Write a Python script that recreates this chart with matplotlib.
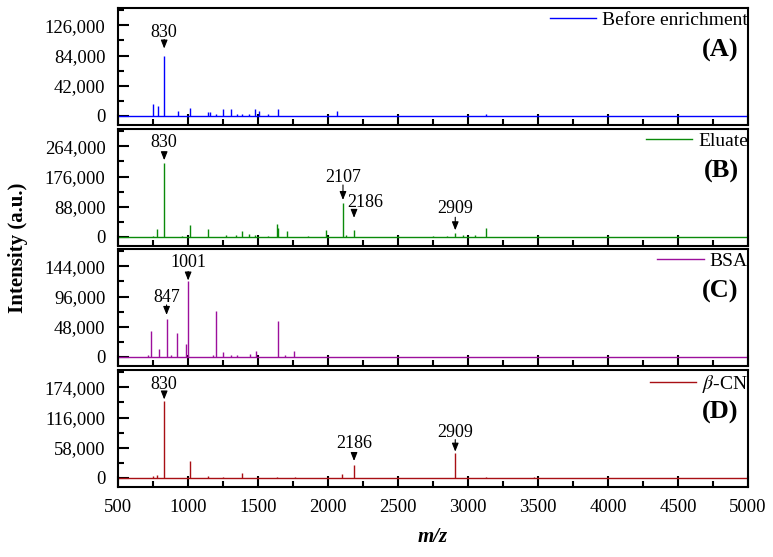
import matplotlib.pyplot as plt
from matplotlib.ticker import MultipleLocator, FuncFormatter

plt.rcParams['font.family'] = 'Liberation Serif'
plt.rcParams['mathtext.fontset'] = 'stix'

# peak lists (m/z, intensity)
before_mz = [748, 783, 830, 926, 1014, 1140, 1157, 1200, 1252, 1307, 1352, 1388, 1438,
             1479, 1509, 1574, 1640, 2067, 3129]
before_int = [16500, 14000, 84000, 7000, 10600, 5000, 5000, 3000, 9000, 9000, 3000, 3000, 2000,
              10000, 6000, 3000, 10000, 7000, 3000]

eluate_mz = [747, 781, 830, 959, 1014, 1141, 1269, 1340, 1388, 1438, 1479, 1569, 1633, 1645,
             1709, 1857, 1988, 2107, 2127, 2186, 2500, 2750, 2850, 2909, 2962, 3050, 3129,
             3500, 4000, 4500]
eluate_int = [3000, 22700, 215000, 3000, 34600, 21800, 5000, 5000, 16000, 7000, 5000, 3000,
              37500, 25000, 16000, 2000, 20000, 98600, 5000, 20000, 2000, 2000, 2500, 10000,
              5000, 5000, 24600, 2000, 2000, 1500]

bsa_mz = [715, 736, 790, 847, 880, 924, 987, 1001, 1175, 1198, 1248, 1307, 1350, 1440, 1483,
          1643, 1690, 1755]
bsa_int = [3000, 41600, 12300, 60300, 3000, 38400, 20300, 120000, 3000, 73000, 8000, 3000,
           2000, 4000, 9000, 57600, 3000, 9000]

cn_mz = [747, 781, 830, 1014, 1141, 1250, 1388, 1639, 1765, 2100, 2186, 2909, 3129, 3470]
cn_int = [3000, 6000, 147000, 32200, 4000, 2000, 8400, 1500, 1500, 6400, 24500, 48300, 1500,
          1000]

names = ['Before enrichment', 'Eluate', 'BSA', r'$\beta$-CN']
letters = ['(A)', '(B)', '(C)', '(D)']
colors = ['#0000ff', '#0a8a0a', '#9c0f9c', '#a80f14']
ysteps = [42000, 88000, 48000, 58000]
spectra = [(before_mz, before_int), (eluate_mz, eluate_int),
           (bsa_mz, bsa_int), (cn_mz, cn_int)]

# labelled peaks: (m/z, gap px, arrow px, text gap px, text shift px)
marks = [
    [(830, 7, 9, 3, 0)],
    [(830, 3, 8, 5, 0), (2107, 3, 15, 3, 0), (2186, 12, 6, 5, 11), (2909, 3, 13, 4, 0)],
    [(847, 4, 10, 3, 0), (1001, 1, 9, 4, 0)],
    [(830, 2, 8, 2, 0), (2186, 4, 8, 5, 0), (2909, 1, 12, 3, 0)],
]

xmin, xmax = 500, 5000
W, H = 773, 557
fig = plt.figure(figsize=(W / 100, H / 100), dpi=100)

tops = [8, 129, 249, 370]
ph = 117
left, right = 118, 748
pt = 0.72  # px -> points

def fmt(v, pos):
    return '{:,.0f}'.format(v)

for i in range(4):
    ax = fig.add_axes([left / W, 1 - (tops[i] + ph) / H, (right - left) / W, ph / H])
    mz, inten = spectra[i]
    c = colors[i]
    ax.plot([xmin, xmax], [0, 0], color=c, lw=1.0, label=names[i])
    ax.vlines(mz, 0, inten, color=c, lw=1.0)

    step = ysteps[i]
    ax.set_xlim(xmin, xmax)
    ax.set_ylim(-0.31 * step, 3.58 * step)
    ax.yaxis.set_major_locator(MultipleLocator(step))
    ax.yaxis.set_minor_locator(MultipleLocator(step / 2))
    ax.yaxis.set_major_formatter(FuncFormatter(fmt))
    ax.xaxis.set_major_locator(MultipleLocator(500))
    ax.xaxis.set_minor_locator(MultipleLocator(250))
    ax.tick_params(which='both', direction='in', width=1.5, top=False, right=False,
                   labelsize=13.5)
    ax.tick_params(which='major', length=8)
    ax.tick_params(which='minor', length=4)
    ax.tick_params(axis='y', pad=9)
    ax.tick_params(axis='x', pad=9)
    if i < 3:
        ax.tick_params(axis='x', labelbottom=False)
    for s in ax.spines.values():
        s.set_linewidth(1.5)

    leg = ax.legend(loc='upper right', frameon=False, fontsize=14, handlelength=2.4,
                    handletextpad=0.3, borderpad=0.0, borderaxespad=0.0,
                    bbox_to_anchor=(1.0, 0.975))
    ax.text(0.985, 0.635, letters[i], transform=ax.transAxes, ha='right', va='center',
            fontsize=19, fontweight='bold')

    for m, gap, alen, tgap, dx in marks[i]:
        h = inten[mz.index(m)]
        ax.annotate('', xy=(m, h), xycoords='data',
                    xytext=(0, (gap + alen) * pt), textcoords='offset points',
                    arrowprops=dict(arrowstyle='-|>,head_length=0.5,head_width=0.2',
                                    color='black', lw=0.8, mutation_scale=10,
                                    shrinkA=0, shrinkB=gap * pt))
        ax.annotate(str(m), xy=(m, h), xycoords='data',
                    xytext=(dx * pt, (gap + alen + tgap) * pt), textcoords='offset points',
                    ha='center', va='baseline', fontsize=13)

fig.text(18 / W, 1 - 248 / H, 'Intensity (a.u.)', rotation=90, ha='center', va='center',
         fontsize=15, fontweight='bold')
fig.text((left + right) / 2 / W, 1 - 537 / H, 'm/z', ha='center', va='center',
         fontsize=15, fontweight='bold', style='italic')

fig.savefig('out.png', dpi=100)
